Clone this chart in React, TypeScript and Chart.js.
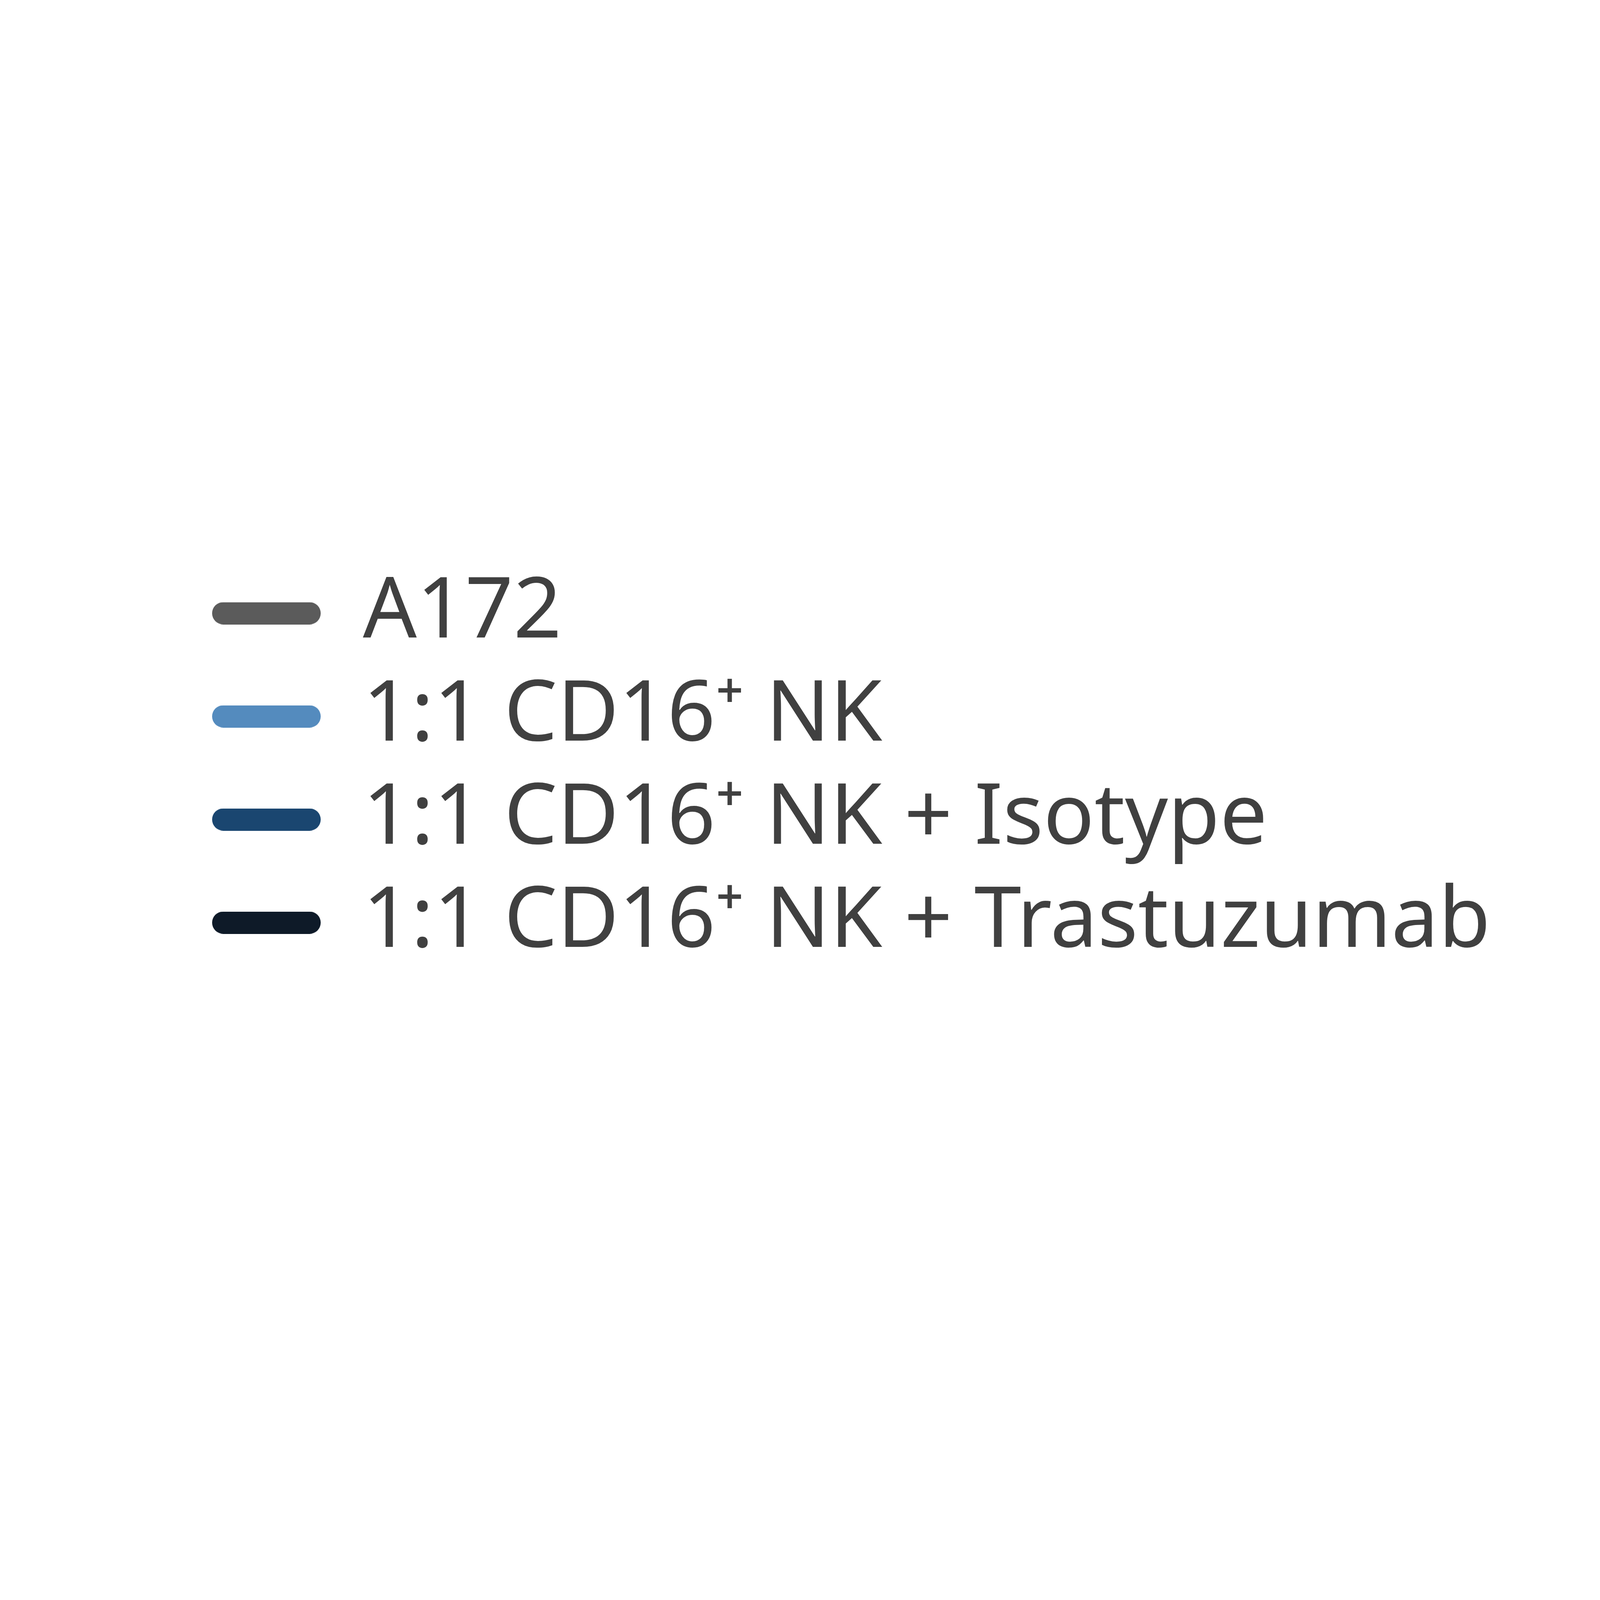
import React, { useEffect, useRef } from "react";
import { Chart, registerables } from "chart.js";

Chart.register(...registerables);

// legend-only figure: four series, no visible plot
const seriesLabels = [
  "A172",
  "1:1 CD16⁺ NK",
  "1:1 CD16⁺ NK + Isotype",
  "1:1 CD16⁺ NK + Trastuzumab",
];
const seriesColors = ["#5b5b5b", "#548bbe", "#1a4670", "#0e1a28"];
const seriesValues: number[][] = [[], [], [], []];
const xLabels: string[] = [];

const SWATCH_W = 278;
const SWATCH_H = 57;
const TEXT_COLOR = "#404040";

// rounded line swatch used as the legend point style
function makeSwatch(color: string) {
  const c = document.createElement("canvas");
  c.width = SWATCH_W;
  c.height = SWATCH_H;
  const ctx = c.getContext("2d");
  if (ctx) {
    ctx.strokeStyle = color;
    ctx.lineWidth = SWATCH_H;
    ctx.lineCap = "round";
    ctx.beginPath();
    ctx.moveTo(SWATCH_H / 2, SWATCH_H / 2);
    ctx.lineTo(SWATCH_W - SWATCH_H / 2, SWATCH_H / 2);
    ctx.stroke();
  }
  return c;
}

export default function App() {
  const canvasRef = useRef<HTMLCanvasElement>(null);

  useEffect(() => {
    document.body.style.margin = "0";
    if (!canvasRef.current) return;
    const swatches = seriesColors.map(makeSwatch);

    const chart = new Chart(canvasRef.current, {
      type: "line",
      data: {
        labels: xLabels,
        datasets: seriesLabels.map((label, i) => ({
          label,
          data: seriesValues[i],
          borderColor: seriesColors[i],
          backgroundColor: seriesColors[i],
          borderWidth: 4,
        })),
      },
      options: {
        animation: false,
        responsive: true,
        maintainAspectRatio: false,
        devicePixelRatio: 1,
        layout: { padding: { left: 495, bottom: 235 } },
        scales: {
          x: { display: false },
          y: { display: false },
        },
        plugins: {
          tooltip: { enabled: false },
          legend: {
            position: "left",
            align: "center",
            maxWidth: 3600,
            labels: {
              usePointStyle: true,
              pointStyleWidth: SWATCH_W,
              padding: 48,
              color: TEXT_COLOR,
              font: { family: "'Noto Sans', sans-serif", size: 216 },
              generateLabels: (c: Chart) =>
                c.data.datasets.map((ds, i) => ({
                  text: ds.label as string,
                  fillStyle: seriesColors[i],
                  strokeStyle: seriesColors[i],
                  fontColor: TEXT_COLOR,
                  lineWidth: 0,
                  pointStyle: swatches[i],
                  hidden: false,
                  datasetIndex: i,
                })),
            },
          },
        },
      },
    });

    return () => chart.destroy();
  }, []);

  return (
    <div style={{ width: 4167, height: 4167, background: "#ffffff" }}>
      <canvas ref={canvasRef} />
    </div>
  );
}
